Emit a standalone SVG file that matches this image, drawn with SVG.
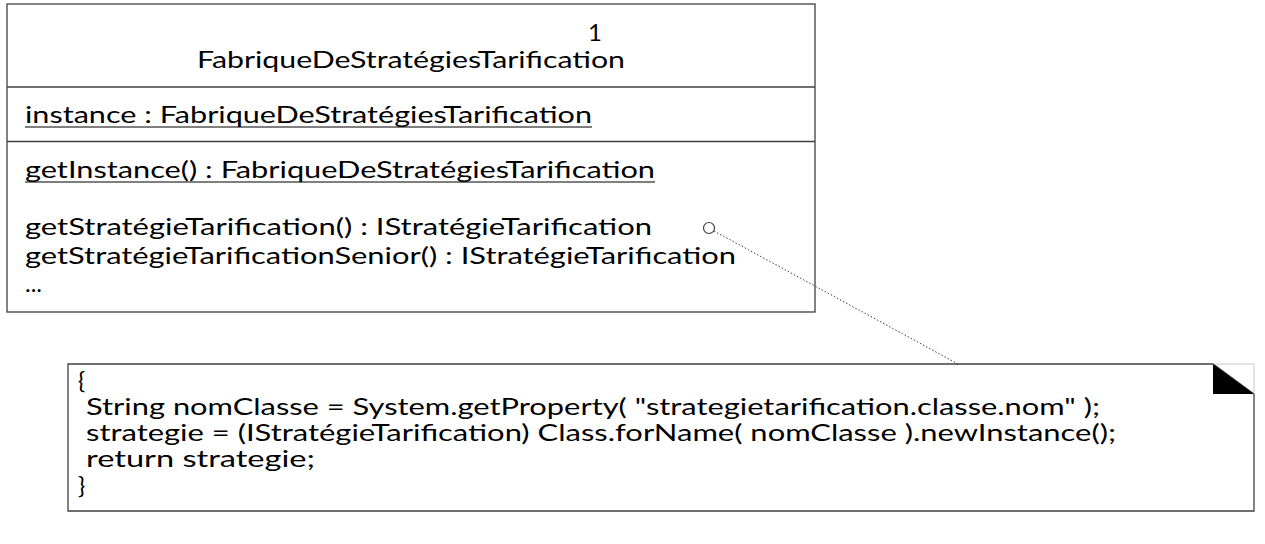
<svg xmlns="http://www.w3.org/2000/svg" width="1265" height="544" viewBox="0 0 1265 544">
<style>
.t{font-family:Lato,"Open Sans",sans-serif;font-size:24px;fill:#000}
.box{fill:#fff;stroke:#404040;stroke-width:1.3}
.ul{stroke:#000;stroke-width:1.2}
</style>
<rect width="1265" height="544" fill="#fff"/>
<g id="class-fabrique">
<rect class="box" x="7" y="4" width="808" height="308"/>
<line class="box" x1="7" y1="87" x2="815" y2="87"/>
<line class="box" x1="7" y1="141.5" x2="815" y2="141.5"/>
<text class="t" x="588" y="41">1</text>
<text class="t" x="197" y="68" textLength="428" lengthAdjust="spacingAndGlyphs">FabriqueDeStratégiesTarification</text>
<text class="t" x="25" y="123" textLength="567" lengthAdjust="spacingAndGlyphs">instance : FabriqueDeStratégiesTarification</text>
<line class="ul" x1="25" y1="127" x2="592" y2="127"/>
<text class="t" x="25" y="178" textLength="630" lengthAdjust="spacingAndGlyphs">getInstance() : FabriqueDeStratégiesTarification</text>
<line class="ul" x1="25" y1="182" x2="655" y2="182"/>
<text class="t" x="25" y="235" textLength="627" lengthAdjust="spacingAndGlyphs">getStratégieTarification() : IStratégieTarification</text>
<text class="t" x="25" y="264" textLength="711" lengthAdjust="spacingAndGlyphs">getStratégieTarificationSenior() : IStratégieTarification</text>
<text class="t" x="25" y="292">...</text>
</g>
<g id="note">
<path class="box" d="M68,364 H1213 L1254,394 V511 H68 Z"/>
<path d="M1213,364 H1254 V394" fill="none" stroke="#c8c8c8" stroke-width="1"/>
<path d="M1213,364 L1254,394 H1213 Z" fill="#000"/>
<text class="t" x="78" y="389">{</text>
<text class="t" x="86" y="415" textLength="1014" lengthAdjust="spacingAndGlyphs">String nomClasse = System.getProperty( "strategietarification.classe.nom" );</text>
<text class="t" x="86" y="441" textLength="1030" lengthAdjust="spacingAndGlyphs">strategie = (IStratégieTarification) Class.forName( nomClasse ).newInstance();</text>
<text class="t" x="86" y="467" textLength="229" lengthAdjust="spacingAndGlyphs">return strategie;</text>
<text class="t" x="78" y="494">}</text>
</g>
<g id="connectors">
<circle cx="709" cy="228" r="5.5" fill="#fff" stroke="#404040" stroke-width="1.2"/>
<line x1="714" y1="231" x2="958" y2="364" stroke="#404040" stroke-width="1" stroke-dasharray="1.5,2"/>
</g>
</svg>
